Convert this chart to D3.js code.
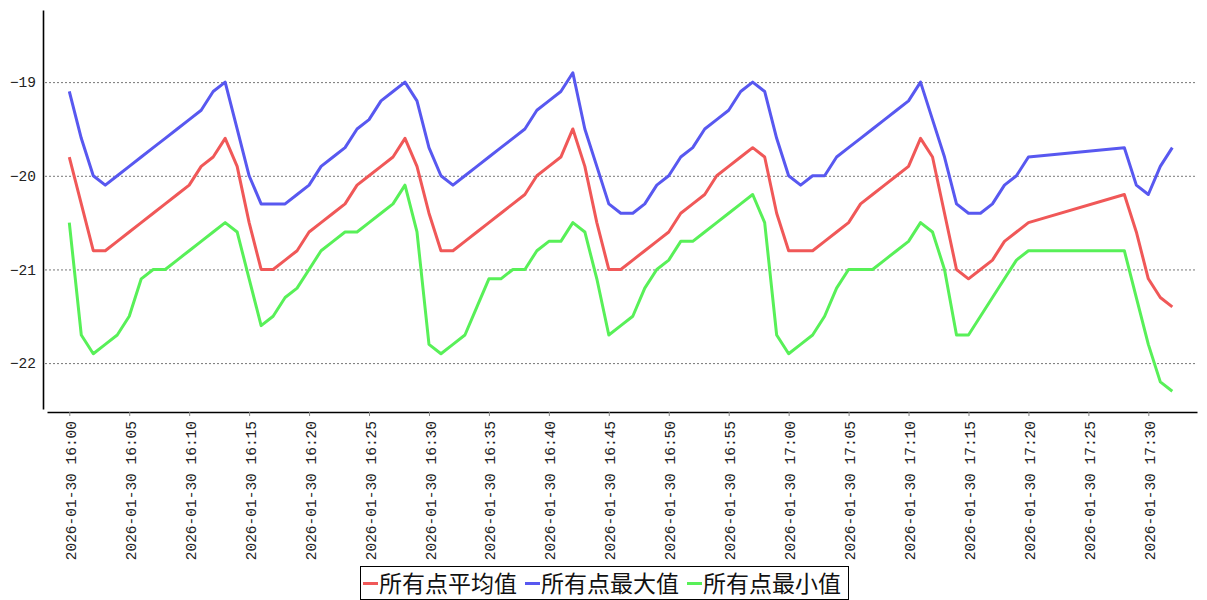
<!DOCTYPE html>
<html>
<head>
<meta charset="utf-8">
<script src="https://cdn.jsdelivr.net/npm/d3@7"></script>
<style>
  body { margin: 0; background: #fff; }
  .axis text { font-family: "Liberation Mono", "DejaVu Sans Mono", monospace; font-size: 14.5px; fill: #222; }
  .grid line { stroke: #777; stroke-dasharray: 2,2; }
  .grid path { display: none; }
  .line { fill: none; stroke-width: 3; stroke-linejoin: round; }
  .legend text { font-family: "Noto Sans CJK SC", sans-serif; font-size: 23px; fill: #111; }
</style>
</head>
<body>
<div id="chart"></div>
<script>
var day = "2026-01-30";

// one sample per minute, 17:21 - 17:27 missing
var times = [
  "16:00","16:01","16:02","16:03","16:04","16:05","16:06","16:07","16:08","16:09",
  "16:10","16:11","16:12","16:13","16:14","16:15","16:16","16:17","16:18","16:19",
  "16:20","16:21","16:22","16:23","16:24","16:25","16:26","16:27","16:28","16:29",
  "16:30","16:31","16:32","16:33","16:34","16:35","16:36","16:37","16:38","16:39",
  "16:40","16:41","16:42","16:43","16:44","16:45","16:46","16:47","16:48","16:49",
  "16:50","16:51","16:52","16:53","16:54","16:55","16:56","16:57","16:58","16:59",
  "17:00","17:01","17:02","17:03","17:04","17:05","17:06","17:07","17:08","17:09",
  "17:10","17:11","17:12","17:13","17:14","17:15","17:16","17:17","17:18","17:19",
  "17:20","17:28","17:29","17:30","17:31","17:32"
];

var avgValues = [
  -19.8,-20.3,-20.8,-20.8,-20.7,-20.6,-20.5,-20.4,-20.3,-20.2,
  -20.1,-19.9,-19.8,-19.6,-19.9,-20.5,-21.0,-21.0,-20.9,-20.8,
  -20.6,-20.5,-20.4,-20.3,-20.1,-20.0,-19.9,-19.8,-19.6,-19.9,
  -20.4,-20.8,-20.8,-20.7,-20.6,-20.5,-20.4,-20.3,-20.2,-20.0,
  -19.9,-19.8,-19.5,-19.9,-20.5,-21.0,-21.0,-20.9,-20.8,-20.7,
  -20.6,-20.4,-20.3,-20.2,-20.0,-19.9,-19.8,-19.7,-19.8,-20.4,
  -20.8,-20.8,-20.8,-20.7,-20.6,-20.5,-20.3,-20.2,-20.1,-20.0,
  -19.9,-19.6,-19.8,-20.4,-21.0,-21.1,-21.0,-20.9,-20.7,-20.6,
  -20.5,-20.2,-20.6,-21.1,-21.3,-21.4
];

var maxValues = [
  -19.1,-19.6,-20.0,-20.1,-20.0,-19.9,-19.8,-19.7,-19.6,-19.5,
  -19.4,-19.3,-19.1,-19.0,-19.5,-20.0,-20.3,-20.3,-20.3,-20.2,
  -20.1,-19.9,-19.8,-19.7,-19.5,-19.4,-19.2,-19.1,-19.0,-19.2,
  -19.7,-20.0,-20.1,-20.0,-19.9,-19.8,-19.7,-19.6,-19.5,-19.3,
  -19.2,-19.1,-18.9,-19.5,-19.9,-20.3,-20.4,-20.4,-20.3,-20.1,
  -20.0,-19.8,-19.7,-19.5,-19.4,-19.3,-19.1,-19.0,-19.1,-19.6,
  -20.0,-20.1,-20.0,-20.0,-19.8,-19.7,-19.6,-19.5,-19.4,-19.3,
  -19.2,-19.0,-19.4,-19.8,-20.3,-20.4,-20.4,-20.3,-20.1,-20.0,
  -19.8,-19.7,-20.1,-20.2,-19.9,-19.7
];

var minValues = [
  -20.5,-21.7,-21.9,-21.8,-21.7,-21.5,-21.1,-21.0,-21.0,-20.9,
  -20.8,-20.7,-20.6,-20.5,-20.6,-21.1,-21.6,-21.5,-21.3,-21.2,
  -21.0,-20.8,-20.7,-20.6,-20.6,-20.5,-20.4,-20.3,-20.1,-20.6,
  -21.8,-21.9,-21.8,-21.7,-21.4,-21.1,-21.1,-21.0,-21.0,-20.8,
  -20.7,-20.7,-20.5,-20.6,-21.1,-21.7,-21.6,-21.5,-21.2,-21.0,
  -20.9,-20.7,-20.7,-20.6,-20.5,-20.4,-20.3,-20.2,-20.5,-21.7,
  -21.9,-21.8,-21.7,-21.5,-21.2,-21.0,-21.0,-21.0,-20.9,-20.8,
  -20.7,-20.5,-20.6,-21.0,-21.7,-21.7,-21.5,-21.3,-21.1,-20.9,
  -20.8,-20.8,-21.3,-21.8,-22.2,-22.3
];

var seriesNames = ["所有点平均值", "所有点最大值", "所有点最小值"];
var seriesColors = ["#f05858", "#5858f0", "#58f058"];
var yTicks = [-22, -21, -20, -19];

var width = 1207, height = 600;

var parseTime = d3.timeParse("%Y-%m-%d %H:%M");
var tickFormat = d3.timeFormat("%Y-%m-%d %H:%M");

var dates = times.map(function(t) { return parseTime(day + " " + t); });
var start = dates[0];
var minute = 60000;

// plot area edges (axes are drawn slightly apart like the original)
var xLeft = 47, xRight = 1197;
var yTop = 10, yBottom = 409;
var xAxisY = 412, yAxisX = 43;

var x = d3.scaleTime()
    .domain([new Date(+start - 1.86 * minute), new Date(+start + 94.06 * minute)])
    .range([xLeft, xRight]);

var y = d3.scaleLinear()
    .domain([-22.49, -18.23])
    .range([yBottom, yTop]);

var svg = d3.select("#chart").append("svg")
    .attr("width", width)
    .attr("height", height);

// dotted grid lines
svg.append("g")
    .attr("class", "grid")
    .attr("transform", "translate(" + (yAxisX + 2) + ",0)")
    .call(d3.axisLeft(y).tickValues(yTicks).tickSize(-(xRight - yAxisX - 2)).tickFormat(""));

// y axis
var yAxisG = svg.append("g")
    .attr("class", "y axis")
    .attr("transform", "translate(" + yAxisX + ",0)")
    .call(d3.axisLeft(y).tickValues(yTicks).tickFormat(d3.format("d")).tickSize(0).tickSizeOuter(0).tickPadding(7));
yAxisG.select(".domain").attr("stroke", "#000").attr("stroke-width", 1.6);

// x axis
var xAxisG = svg.append("g")
    .attr("class", "x axis")
    .attr("transform", "translate(0," + xAxisY + ")")
    .call(d3.axisBottom(x).ticks(d3.timeMinute.every(5)).tickFormat(tickFormat).tickSize(4).tickSizeOuter(0));
xAxisG.select(".domain").attr("stroke", "#000").attr("stroke-width", 1.6);
xAxisG.selectAll(".tick line").attr("stroke", "#888");
xAxisG.selectAll(".tick text")
    .attr("transform", "rotate(-90)")
    .attr("x", -9)
    .attr("y", 1)
    .attr("dy", "0.35em")
    .style("text-anchor", "end");

// lines
var series = [avgValues, maxValues, minValues];

var valueLine = d3.line()
    .x(function(d, i) { return x(dates[i]); })
    .y(function(d) { return y(d); });

svg.selectAll(".line")
    .data(series)
    .enter()
    .append("path")
    .attr("class", "line")
    .attr("stroke", function(d, i) { return seriesColors[i]; })
    .attr("d", valueLine);

// legend
var legendX = 360, legendY = 566, legendW = 488, legendH = 33;
var legend = svg.append("g").attr("class", "legend");

legend.append("rect")
    .attr("x", legendX + 0.5)
    .attr("y", legendY + 0.5)
    .attr("width", legendW)
    .attr("height", legendH)
    .attr("fill", "#fff")
    .attr("stroke", "#000")
    .attr("stroke-width", 1);

var items = legend.selectAll(".item")
    .data(seriesNames)
    .enter()
    .append("g")
    .attr("class", "item")
    .attr("transform", function(d, i) { return "translate(" + (legendX + 3 + i * 162) + "," + (legendY + legendH / 2 + 1) + ")"; });

items.append("line")
    .attr("x1", 0)
    .attr("x2", 15)
    .attr("y1", 0)
    .attr("y2", 0)
    .attr("stroke", function(d, i) { return seriesColors[i]; })
    .attr("stroke-width", 3);

items.append("text")
    .attr("x", 16)
    .attr("y", 0)
    .attr("dy", "0.36em")
    .text(function(d) { return d; });
</script>
</body>
</html>
